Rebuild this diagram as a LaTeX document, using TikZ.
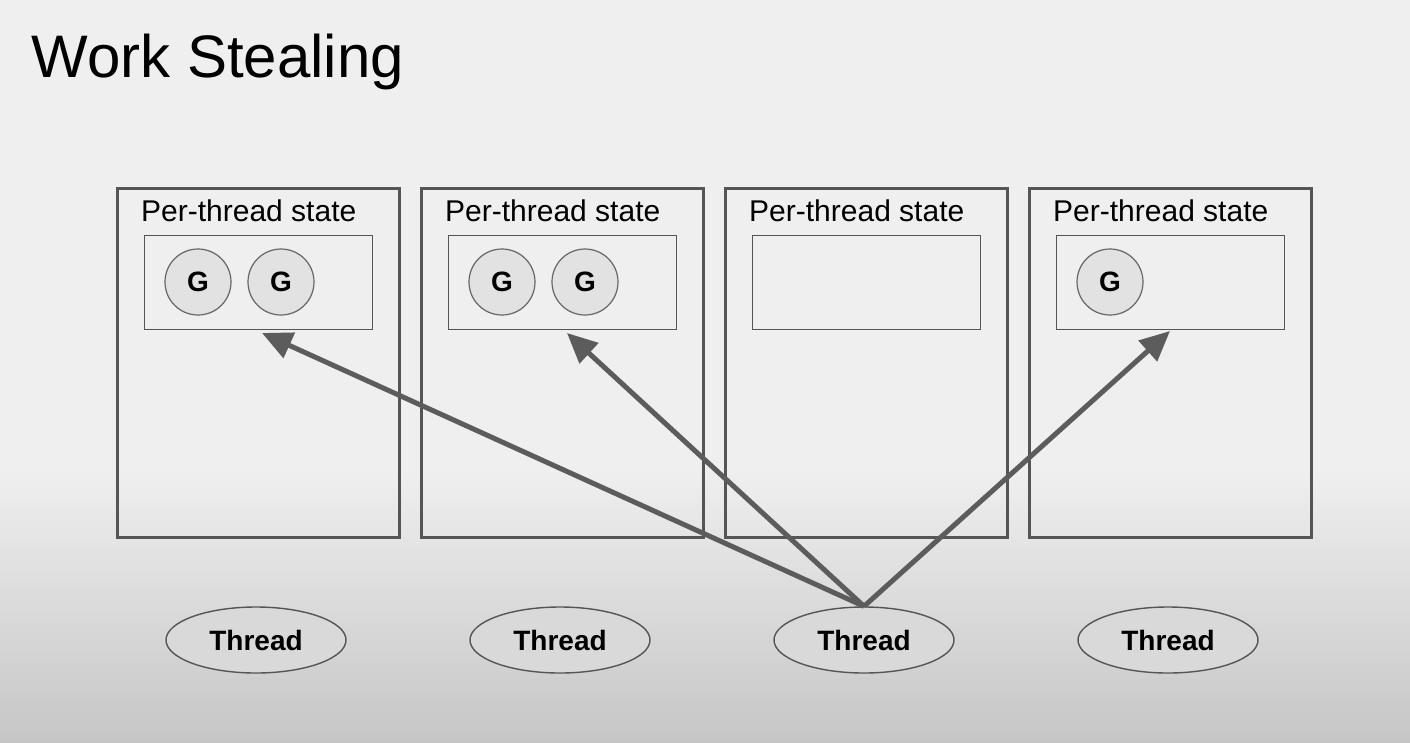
\documentclass[tikz,border=0pt]{standalone}
\usepackage{fontspec}
\setmainfont{Liberation Sans}
\usepackage{tikz}
\usetikzlibrary{shapes.geometric,arrows.meta}
\definecolor{slidebg}{HTML}{EFEFEF}
\definecolor{slidelow}{HTML}{C6C6C6}
\definecolor{edgegray}{HTML}{555555}
\definecolor{arrowgray}{HTML}{5C5C5C}
\definecolor{gfill}{HTML}{E2E2E2}
\definecolor{tfill}{HTML}{D9D9D9}
\newcommand{\boxwd}{2.5pt}

\tikzset{
  statebox/.style={draw=edgegray, line width=\boxwd, anchor=north west,
    minimum width=282, minimum height=349, inner sep=0pt},
  queuebox/.style={draw=edgegray, line width=1.4pt, anchor=north west,
    minimum width=228, minimum height=94, inner sep=0pt},
  gnode/.style={draw=edgegray!90, fill=gfill, circle, line width=1.2pt,
    minimum size=66, inner sep=0pt, font=\fontsize{28}{32}\selectfont\bfseries},
  thread/.style={draw=edgegray, fill=tfill, ellipse, line width=1.4pt,
    minimum width=180, minimum height=66, inner sep=0pt,
    font=\fontsize{28}{32}\selectfont\bfseries},
  steal/.style={draw=arrowgray, line width=5pt,
    -{Triangle[length=30pt,width=27pt]}}
}

\begin{document}
\begin{tikzpicture}[x=1pt,y=-1pt]
      \useasboundingbox (0,0) rectangle (1410,742);
      \fill[slidebg] (0,0) rectangle (1410,470);
      \shade[top color=slidebg, bottom color=slidelow] (0,470) rectangle (1410,742);

          %%  Work Stealing %%
      \node (title) at (28,77) [anchor=base west, font=\fontsize{60}{72}\selectfont] {Work Stealing};

      \foreach \i in {1,...,4}
      { \node (b\i) at ({116+304*(\i-1)},187) [statebox] {};
        \node (p\i) at ({141+304*(\i-1)},221) [anchor=base west, inner sep=0pt,
          font=\fontsize{30}{36}\selectfont] {Per-thread state};
        \node (s\i) at ({144+304*(\i-1)},235) [queuebox] {};
        \node (t\i) at ({256+304*(\i-1)},640) [thread] {Thread};}

      \foreach \j in {1,2}
      { \node (g1\j) at ({198+83*(\j-1)},282) [gnode] {G};
        \node (g2\j) at ({502+83*(\j-1)},282) [gnode] {G};}
      { \node (g41) at (1110,282) [gnode] {G};}

      \coordinate (e1) at (262,333);
      \coordinate (e2) at (567,333);
      \coordinate (e4) at (1170,331);
      \draw[steal] (t3.north) to (e1);
      \draw[steal] (t3.north) to (e2);
      \draw[steal] (t3.north) to (e4);

\end{tikzpicture}
\end{document}
